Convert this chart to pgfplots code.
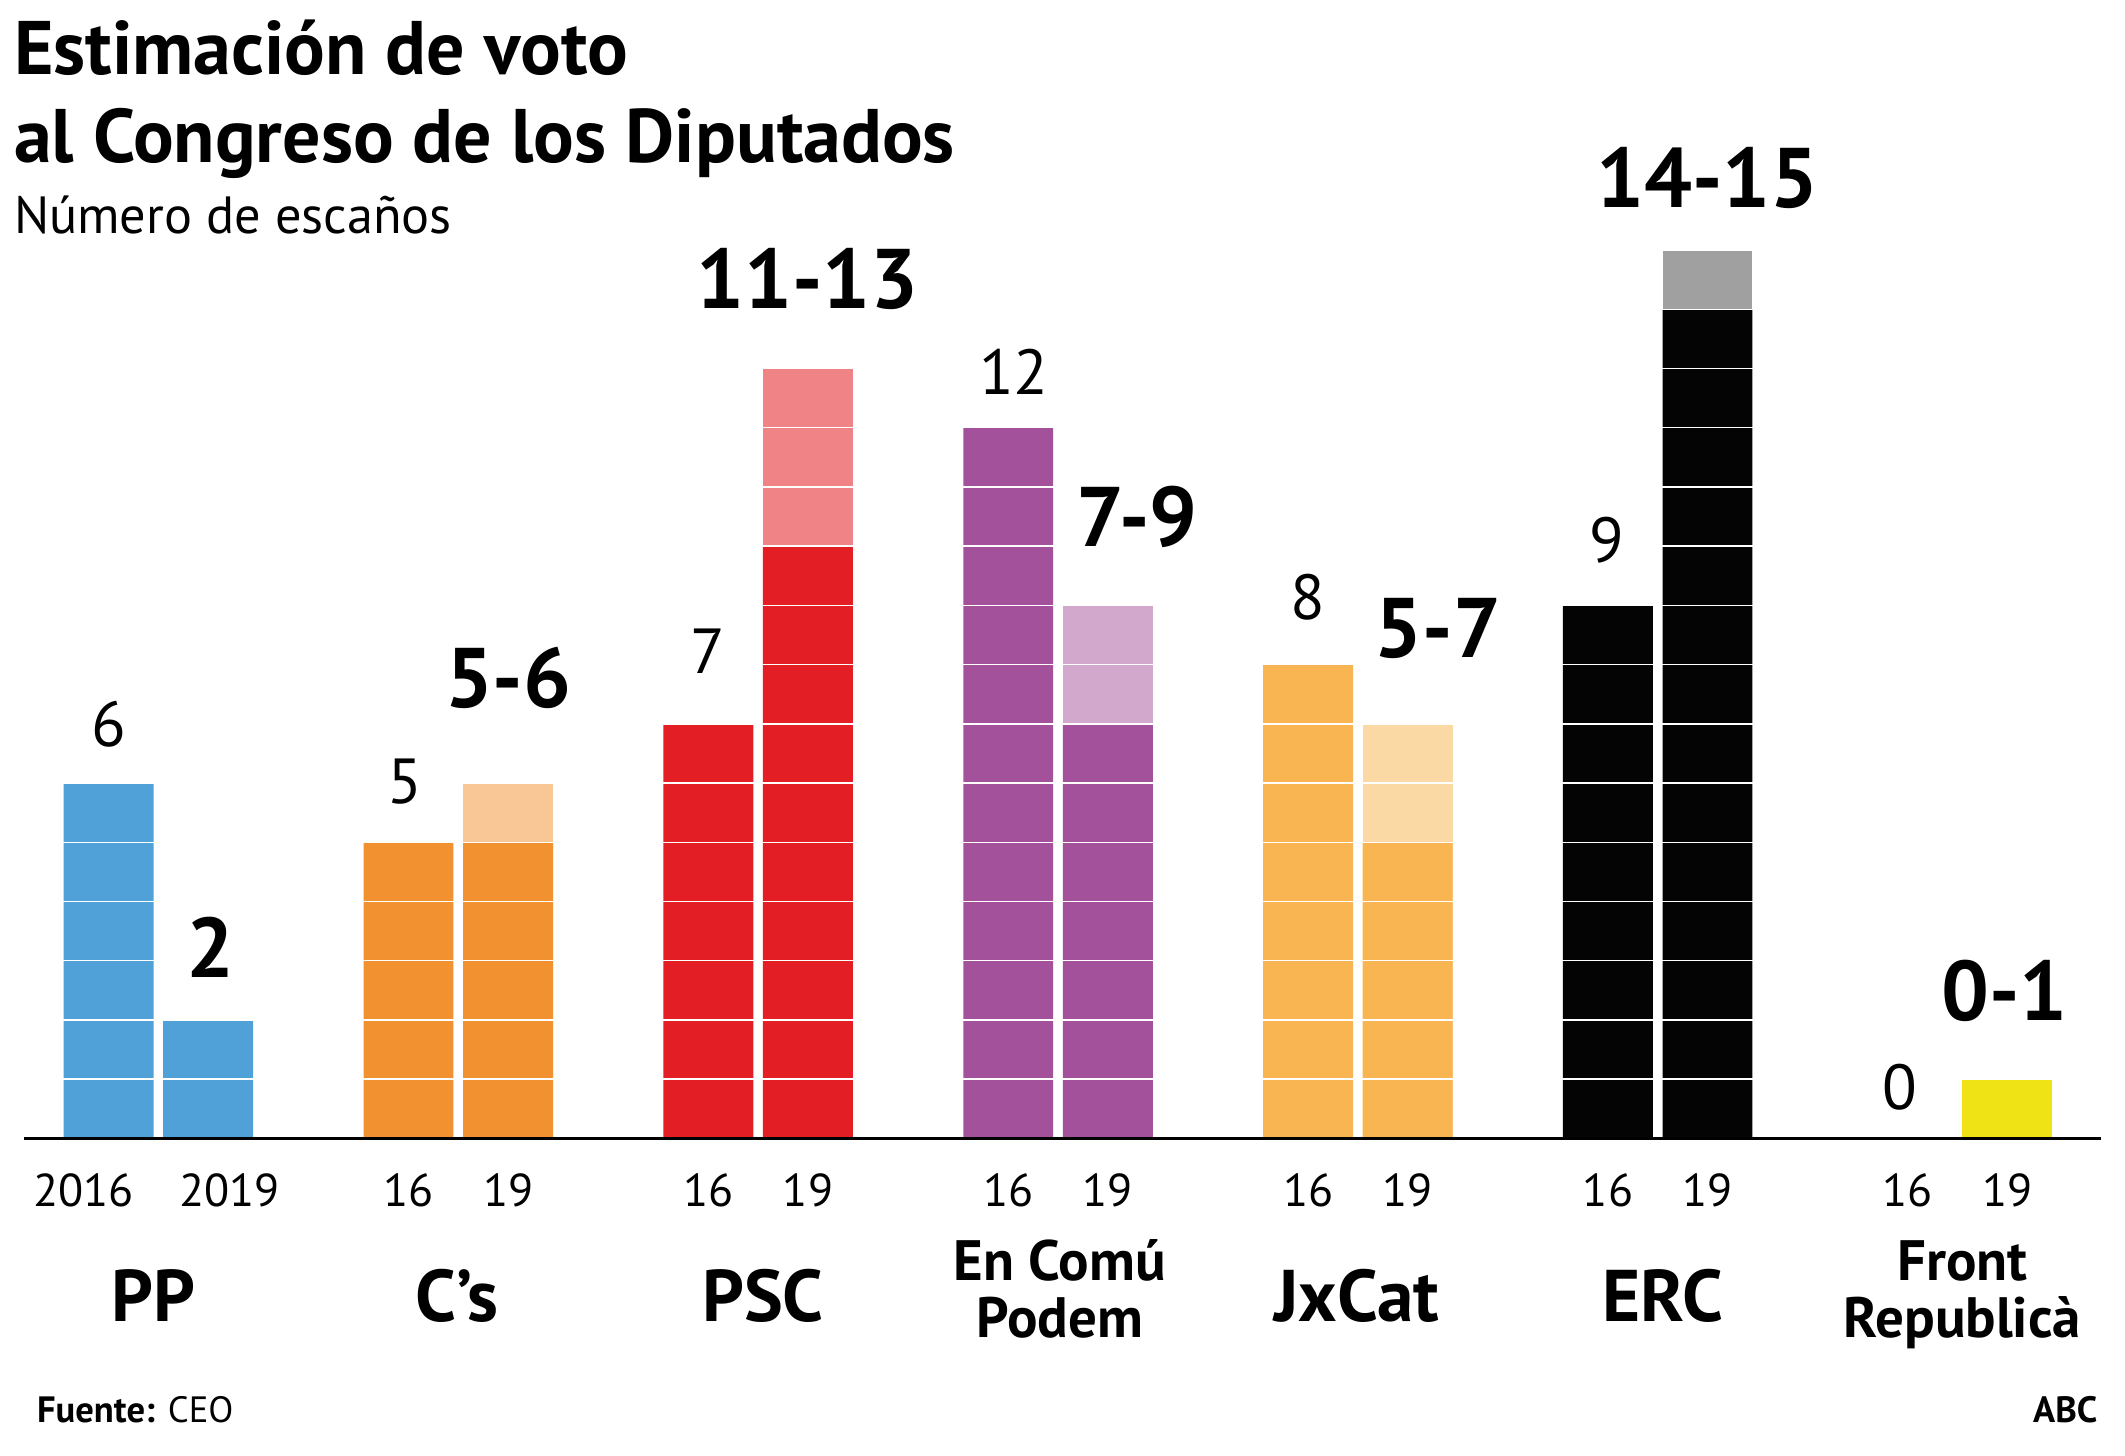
\documentclass[border=0pt]{standalone}
\usepackage{fontspec}
\setmainfont{PT Sans}
\usepackage{pgfplots}
\pgfplotsset{compat=1.18}
\definecolor{ppblue}{RGB}{79,161,216}
\definecolor{csor}{RGB}{242,145,48}
\definecolor{csorl}{RGB}{248,199,149}
\definecolor{pscred}{RGB}{227,30,36}
\definecolor{pscredl}{RGB}{239,131,134}
\definecolor{ecp}{RGB}{163,81,154}
\definecolor{ecpl}{RGB}{211,168,205}
\definecolor{jx}{RGB}{248,181,82}
\definecolor{jxl}{RGB}{251,217,164}
\definecolor{erc}{RGB}{4,4,4}
\definecolor{ercl}{RGB}{160,160,160}
\definecolor{fr}{RGB}{239,227,21}
\begin{document}
\begin{tikzpicture}
\path[use as bounding box] (0pt,0pt) rectangle (784pt,-537pt);
\begin{axis}[
  at={(9pt,-420pt)}, anchor=south west,
  scale only axis, width=766pt, height=371.45pt,
  xmin=-0.447, xmax=6.477, ymin=0, ymax=17,
  axis x line*=bottom, axis y line*=left,
  y axis line style={draw=none},
  x axis line style={line width=1.3pt,-},
  xtick=\empty, ytick={1,...,16}, yticklabels={}, major tick length=0pt,
  ymajorgrids, major grid style={white, line width=0.5pt},
  axis on top,
  ybar, bar width=0.30,
  bs/.style={ybar, fill=#1, draw=none, bar shift=0pt, bar width=0.30},
  clip=false,
]
% 2019 upper range (light) drawn first, full height
\addplot[bs=csorl] coordinates {(1.166,6)};
\addplot[bs=pscredl] coordinates {(2.166,13)};
\addplot[bs=ecpl] coordinates {(3.166,9)};
\addplot[bs=jxl] coordinates {(4.166,7)};
\addplot[bs=ercl] coordinates {(5.166,15)};
% 2016 and 2019 base
\addplot[bs=ppblue] coordinates {(-0.166,6) (0.166,2)};
\addplot[bs=csor] coordinates {(0.834,5) (1.166,5)};
\addplot[bs=pscred] coordinates {(1.834,7) (2.166,10)};
\addplot[bs=ecp] coordinates {(2.834,12) (3.166,7)};
\addplot[bs=jx] coordinates {(3.834,8) (4.166,5)};
\addplot[bs=erc] coordinates {(4.834,9) (5.166,14)};
\addplot[bs=fr] coordinates {(6.166,1)};
\end{axis}
\begin{scope}[x=0.5pt,y=-0.5pt,
  ttl/.style={anchor=base west, inner sep=0, font=\fontsize{28}{28}\selectfont\bfseries},
  num/.style={anchor=base, inner sep=0, font=\fontsize{23.5}{24}\selectfont},
  rng/.style={anchor=base, inner sep=0, font=\fontsize{31.2}{32}\selectfont\bfseries},
  tk/.style={anchor=base, inner sep=0, font=\fontsize{17}{17}\selectfont},
  pn/.style={anchor=base, inner sep=0, font=\fontsize{27}{27}\selectfont\bfseries},
  pn2/.style={anchor=base, inner sep=0, font=\fontsize{21}{21}\selectfont\bfseries}]
\node[ttl] at (10,55) {Estimación de voto};
\node[ttl] at (10,120) {al Congreso de los Diputados};
\node[anchor=base west, inner sep=0, font=\fontsize{19.3}{19}\selectfont] at (10,172) {Número de escaños};
% value labels
\node[num] at (80,551) {6};
\node[rng] at (155,721) {2};
\node[num] at (299,593) {5};
\node[rng] at (375,522) {5-6};
\node[num] at (522,497) {7};
\node[rng] at (596,228) {11-13};
\node[num] at (748,291) {12};
\node[rng] at (839,403) {7-9};
\node[num] at (965,457) {8};
\node[rng] at (1061,485) {5-7};
\node[num] at (1186,415) {9};
\node[rng] at (1260,153) {14-15};
\node[num] at (1402,819) {0};
\node[rng] at (1479,753) {0-1};
% year ticks
\node[tk] at (61.5,890) {2016};
\node[tk] at (169.5,890) {2019};
\foreach \c in {338.25,559.5,780.75,1002,1223.25,1444.5}{
  \node[tk] at (\c-36.75,890) {16};
  \node[tk] at (\c+36.75,890) {19};
}
% party names
\node[pn] at (113,975) {PP};
\node[pn] at (337,975) {C’s};
\node[pn] at (563,975) {PSC};
\node[pn2] at (782,945) {En Comú};
\node[pn2] at (782,987) {Podem};
\node[pn] at (1001,975) {JxCat};
\node[pn] at (1227,975) {ERC};
\node[pn2] at (1448,945) {Front};
\node[pn2] at (1448,987) {Republicà};
% footer
\node[anchor=base west, inner sep=0, font=\fontsize{13.5}{14}\selectfont] at (27,1050) {\textbf{Fuente:} CEO};
\node[anchor=base east, inner sep=0, font=\fontsize{13.5}{14}\selectfont\bfseries] at (1548,1050) {ABC};
\end{scope}
\end{tikzpicture}
\end{document}
